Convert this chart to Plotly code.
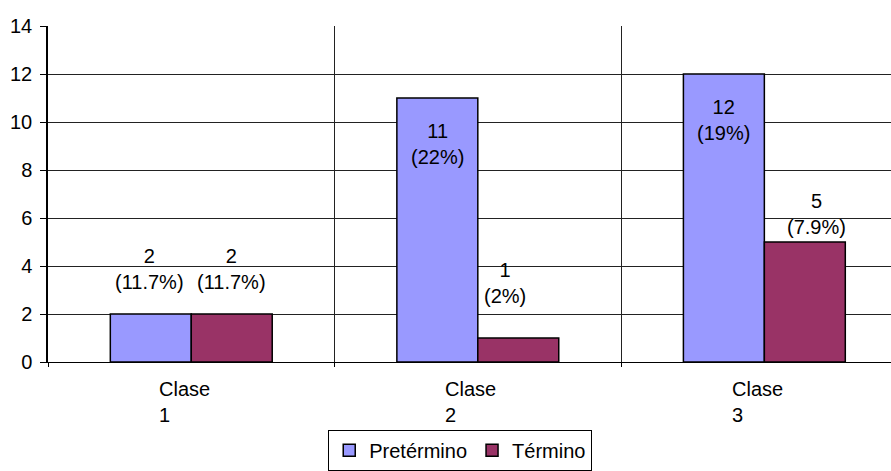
import plotly.graph_objects as go

# Data
categories = ["Clase 1", "Clase 2", "Clase 3"]
series_names = ["Pretérmino", "Término"]
pretermino = [2, 11, 12]
termino = [2, 1, 5]
pretermino_pct = ["11.7%", "22%", "19%"]
termino_pct = ["11.7%", "2%", "7.9%"]
y_ticks = [0, 2, 4, 6, 8, 10, 12, 14]

FONT = "Liberation Sans, Arial, sans-serif"
COLORS = ["#9999FF", "#993366"]
BARGAP = 0.435
bar_w = (1 - BARGAP) / 2

x_pos = list(range(len(categories)))

fig = go.Figure()
for name, vals, col in zip(series_names, [pretermino, termino], COLORS):
    fig.add_trace(go.Bar(
        x=x_pos, y=vals, name=name,
        marker=dict(color=col, line=dict(color="#000000", width=1.5)),
        hoverinfo="skip",
    ))

# Value labels: "n<br>(p%)" per bar; placement style per label
label_style = {
    # (series idx, category idx): (inside?, y pixel shift, x pixel shift)
    (0, 0): (False, 19, -1), (1, 0): (False, 19, 0),
    (0, 1): (True, -20, 0), (1, 1): (False, 29, -13),
    (0, 2): (True, -20, 0), (1, 2): (False, 2, 12),
}
annotations = []
for s, (vals, pcts) in enumerate([(pretermino, pretermino_pct), (termino, termino_pct)]):
    for i, (v, p) in enumerate(zip(vals, pcts)):
        inside, ys, xs = label_style[(s, i)]
        xc = i + (s - 0.5) * bar_w
        annotations.append(dict(
            x=xc, y=v, xref="x", yref="y",
            text=f"{v}<br>({p})", showarrow=False,
            xanchor="center", yanchor="top" if inside else "bottom",
            yshift=ys, xshift=xs, align="center",
            font=dict(family=FONT, size=20, color="#000000"),
        ))

# Category labels below the axis, wrapped over two lines
for i, c in enumerate(categories):
    annotations.append(dict(
        x=i, y=0, xref="x", yref="y",
        text=c.replace(" ", "<br>"), showarrow=False,
        xanchor="center", yanchor="top", align="left",
        xshift=-7, yshift=-14,
        font=dict(family=FONT, size=20, color="#000000"),
    ))

fig.update_layout(
    width=891, height=471,
    margin=dict(l=48, r=0, t=26, b=109, autoexpand=False),
    paper_bgcolor="#FFFFFF", plot_bgcolor="#FFFFFF",
    barmode="group", bargap=BARGAP, bargroupgap=0,
    font=dict(family=FONT, size=20, color="#000000"),
    showlegend=True,
    legend=dict(
        orientation="h", x=0.489, xanchor="center", y=-0.202, yanchor="top",
        bordercolor="#000000", borderwidth=1, bgcolor="#FFFFFF",
        font=dict(family=FONT, size=20, color="#000000"),
        itemwidth=30, traceorder="normal",
    ),
    annotations=annotations,
)

# Category boundaries as vertical grid lines
bounds = [i - 0.5 for i in range(len(categories) + 1)]
fig.update_xaxes(
    range=[-0.5, 2.442], tickmode="array", tickvals=bounds,
    showticklabels=False, ticks="outside", ticklen=4, tickcolor="#000000",
    showgrid=True, gridcolor="#222222", gridwidth=1,
    showline=True, linecolor="#000000", linewidth=1, zeroline=False,
)
fig.update_yaxes(
    range=[0, 14], tickmode="array", tickvals=y_ticks,
    ticks="outside", ticklen=6, tickcolor="#000000",
    ticklabelstandoff=4,
    tickfont=dict(family=FONT, size=20, color="#000000"),
    showgrid=True, gridcolor="#222222", gridwidth=1,
    showline=True, linecolor="#000000", linewidth=1.5, zeroline=False,
)

fig.write_html("out.html")
